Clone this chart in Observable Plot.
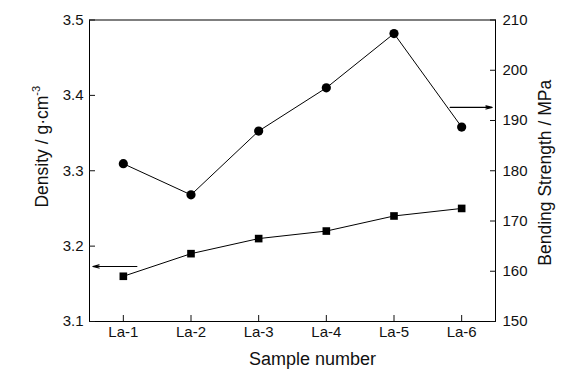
<!DOCTYPE html>
<html>
<head>
<meta charset="utf-8">
<script src="https://cdn.jsdelivr.net/npm/d3@7"></script>
<script src="https://cdn.jsdelivr.net/npm/@observablehq/plot@0.6"></script>
<style>
  html, body { margin: 0; padding: 0; background: #fff; }
</style>
</head>
<body>
<div id="chart"></div>
<script>
const samples = ["La-1", "La-2", "La-3", "La-4", "La-5", "La-6"];
const density = [3.16, 3.19, 3.21, 3.22, 3.24, 3.25];          // g·cm^-3 (left axis)
const strength = [181.4, 175.2, 187.9, 196.5, 207.3, 188.7];   // MPa (right axis)
const densityTicks = [3.1, 3.2, 3.3, 3.4, 3.5];
const strengthTicks = [150, 160, 170, 180, 190, 200, 210];
// indicator arrows (x in sample-index units, y in each series' own units)
const arrowDensity = [{x1: 0.2, x2: -0.45, y: 3.173}];
const arrowStrength = [{x1: 4.83, x2: 5.45, y: 192.6}];

const dMin = 3.1, dMax = 3.5, sMin = 150, sMax = 210;
const toDensity = s => +(dMin + (s - sMin) / (sMax - sMin) * (dMax - dMin)).toFixed(6);
const toStrength = d => sMin + (d - dMin) / (dMax - dMin) * (sMax - sMin);

const idx = samples.map((_, i) => i);
const densData = samples.map((s, i) => ({i, v: density[i]}));
const strData = samples.map((s, i) => ({i, v: toDensity(strength[i])}));
const arrows = [
  ...arrowDensity.map(a => ({x1: a.x1, x2: a.x2, y: a.y})),
  ...arrowStrength.map(a => ({x1: a.x1, x2: a.x2, y: toDensity(a.y)}))
];

const chart = Plot.plot({
  width: 569,
  height: 374,
  marginLeft: 89,
  marginRight: 74,
  marginTop: 19.5,
  marginBottom: 53,
  style: {fontFamily: "'Liberation Sans', Arial, sans-serif", fontSize: "15px", color: "#111", background: "#fff"},
  x: {domain: [-0.5, 5.5]},
  y: {domain: [dMin, dMax]},
  marks: [
    Plot.frame({stroke: "#000", strokeWidth: 1}),
    Plot.axisX({ticks: idx, tickFormat: i => samples[i], tickSize: -6, tickPadding: 11, label: null}),
    Plot.axisY({anchor: "left", ticks: densityTicks, tickFormat: d3.format(".1f"), tickSize: -6, tickPadding: 12, label: null}),
    Plot.axisY({anchor: "right", ticks: strengthTicks.map(toDensity), tickFormat: d => Math.round(toStrength(d)), tickSize: -6, tickPadding: 13, label: null}),
    Plot.line(strData, {x: "i", y: "v", stroke: "#000", strokeWidth: 1}),
    Plot.line(densData, {x: "i", y: "v", stroke: "#000", strokeWidth: 1}),
    Plot.dot(strData, {x: "i", y: "v", r: 4.6, fill: "#000", symbol: "circle"}),
    Plot.dot(densData, {x: "i", y: "v", r: 4.3, fill: "#000", symbol: "square"}),
    Plot.arrow(arrows, {x1: "x1", x2: "x2", y1: "y", y2: "y", stroke: "#000", strokeWidth: 1.2, headLength: 8, headAngle: 28}),
    Plot.text(["Sample number"], {frameAnchor: "bottom", dx: 20, dy: 38, fontSize: 18, lineAnchor: "middle", textAnchor: "middle"}),
    Plot.text(["Density / g·cm"], {frameAnchor: "left", dx: -47, dy: -24, rotate: -90, fontSize: 17.5, lineAnchor: "middle", textAnchor: "middle", className: "dens-label"}),
    Plot.text(["Bending Strength / MPa"], {frameAnchor: "right", dx: 50, dy: 2, rotate: -90, fontSize: 17.5, lineAnchor: "middle", textAnchor: "middle"})
  ]
});

d3.select(chart).select(".dens-label text")
  .append("tspan")
  .attr("font-size", 11)
  .attr("dy", "-0.75em")
  .text("-3");

document.getElementById("chart").appendChild(chart);
</script>
</body>
</html>
